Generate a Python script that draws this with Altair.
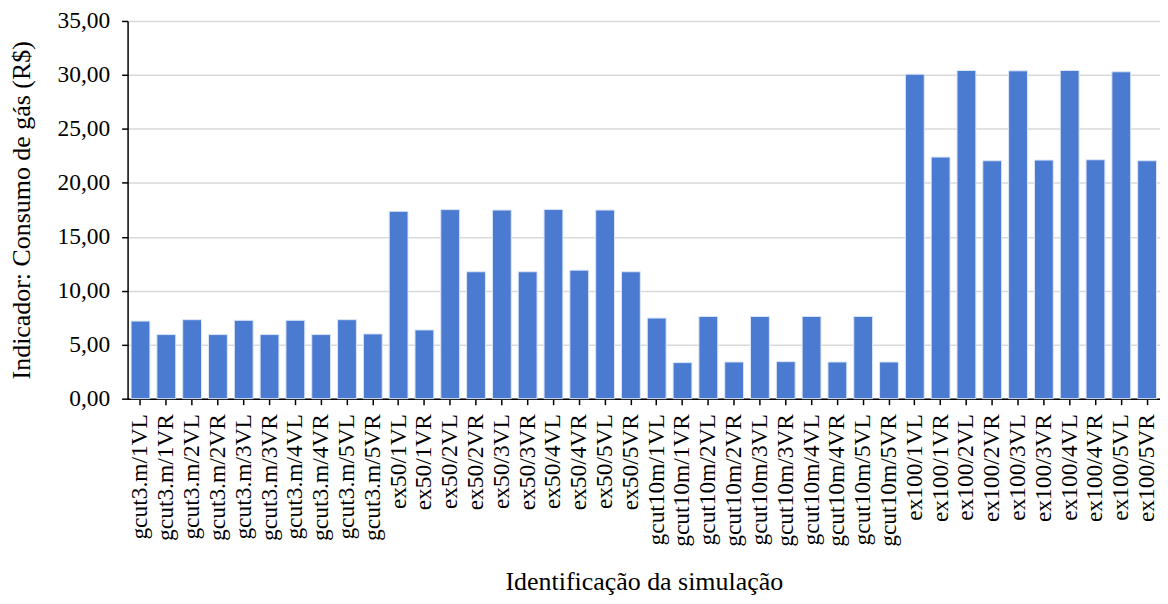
import altair as alt
import pandas as pd

groups = ["gcut3.m", "ex50", "gcut10m", "ex100"]
suffixes = ["1VL", "1VR", "2VL", "2VR", "3VL", "3VR", "4VL", "4VR", "5VL", "5VR"]
categories = [f"{g}/{s}" for g in groups for s in suffixes]

values = [
    7.19, 5.94, 7.32, 5.94, 7.26, 5.94, 7.26, 5.94, 7.32, 6.00,
    17.36, 6.37, 17.52, 11.76, 17.48, 11.76, 17.54, 11.91, 17.48, 11.76,
    7.47, 3.34, 7.62, 3.40, 7.62, 3.43, 7.62, 3.40, 7.62, 3.40,
    30.07, 22.39, 30.41, 22.05, 30.38, 22.11, 30.41, 22.14, 30.29, 22.05,
]

df = pd.DataFrame({"sim": categories, "valor": values})

FONT = "Liberation Serif"

chart = (
    alt.Chart(df)
    .mark_bar(color="#4B7BD1", stroke="#dce6f7", strokeWidth=1)
    .encode(
        x=alt.X(
            "sim:N",
            sort=categories,
            scale=alt.Scale(paddingInner=0.27, paddingOuter=0.135),
            axis=alt.Axis(
                title="Identificação da simulação",
                labelAngle=-90,
                labelFont=FONT,
                labelFontSize=23.5,
                labelColor="black",
                labelPadding=9,
                tickColor="black",
                tickSize=6,
                tickWidth=1.5,
                domainColor="black",
                domainWidth=1.5,
                titleFont=FONT,
                titleFontSize=26,
                titleFontWeight="normal",
                titleColor="black",
                titleBaseline="alphabetic",
                titleY=191,
                grid=False,
            ),
        ),
        y=alt.Y(
            "valor:Q",
            scale=alt.Scale(domain=[0, 35], nice=False),
            axis=alt.Axis(
                title="Indicador: Consumo de gás (R$)",
                values=[0, 5, 10, 15, 20, 25, 30, 35],
                labelExpr="replace(format(datum.value, '.2f'), '.', ',')",
                labelFont=FONT,
                labelFontSize=23.5,
                labelColor="black",
                labelPadding=12,
                tickColor="black",
                tickSize=6,
                tickWidth=1.5,
                domainColor="black",
                domainWidth=1.5,
                gridColor="#d9d9d9",
                gridWidth=1.5,
                titleFont=FONT,
                titleFontSize=26,
                titleFontWeight="normal",
                titleColor="black",
                titleBaseline="middle",
                titleX=-106,
            ),
        ),
    )
    .properties(
        width=1036,
        height=379,
        autosize=alt.AutoSizeParams(type="none"),
        padding={"left": 120, "top": 12, "right": 0, "bottom": 197},
    )
    .configure_view(stroke=None)
)

chart.save("out.html", embed_options={"renderer": "svg", "actions": False})
